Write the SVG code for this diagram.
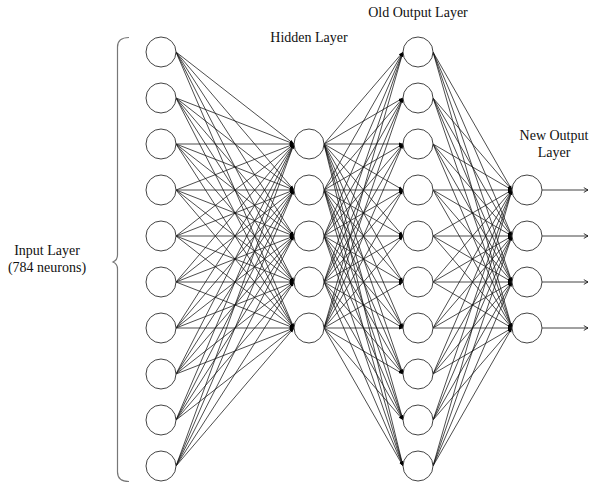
<svg xmlns="http://www.w3.org/2000/svg" width="600" height="486" viewBox="0 0 600 486">
<defs>
<style>
.n{fill:#fff;stroke:#444;stroke-width:1}
.c line{stroke:#111;stroke-width:0.75;marker-end:url(#a)}
.c line.o{marker-end:url(#o);stroke-width:0.8}
text{font-family:"Liberation Serif","Times New Roman",serif;font-size:14px;fill:#111;text-anchor:middle}
</style>
<marker id="a" viewBox="0 0 10 10" refX="10" refY="5" markerWidth="4.5" markerHeight="4.5" markerUnits="userSpaceOnUse" orient="auto"><path d="M0,1.5 L10,5 L0,8.5 z" fill="#000"/></marker>
<marker id="o" viewBox="0 0 10 10" refX="10" refY="5" markerWidth="6" markerHeight="6" markerUnits="userSpaceOnUse" orient="auto"><path d="M3,1 L10,5 L3,9" fill="none" stroke="#000" stroke-width="1.3"/></marker>
</defs>
<rect width="600" height="486" fill="#fff"/>
<g id="connectors" class="c">
<line x1="176" y1="52" x2="294" y2="144"/><line x1="176" y1="52" x2="294" y2="190"/><line x1="176" y1="52" x2="294" y2="236"/><line x1="176" y1="52" x2="294" y2="282"/><line x1="176" y1="52" x2="294" y2="328"/>
<line x1="176" y1="98" x2="294" y2="144"/><line x1="176" y1="98" x2="294" y2="190"/><line x1="176" y1="98" x2="294" y2="236"/><line x1="176" y1="98" x2="294" y2="282"/><line x1="176" y1="98" x2="294" y2="328"/>
<line x1="176" y1="144" x2="294" y2="144"/><line x1="176" y1="144" x2="294" y2="190"/><line x1="176" y1="144" x2="294" y2="236"/><line x1="176" y1="144" x2="294" y2="282"/><line x1="176" y1="144" x2="294" y2="328"/>
<line x1="176" y1="190" x2="294" y2="144"/><line x1="176" y1="190" x2="294" y2="190"/><line x1="176" y1="190" x2="294" y2="236"/><line x1="176" y1="190" x2="294" y2="282"/><line x1="176" y1="190" x2="294" y2="328"/>
<line x1="176" y1="236" x2="294" y2="144"/><line x1="176" y1="236" x2="294" y2="190"/><line x1="176" y1="236" x2="294" y2="236"/><line x1="176" y1="236" x2="294" y2="282"/><line x1="176" y1="236" x2="294" y2="328"/>
<line x1="176" y1="282" x2="294" y2="144"/><line x1="176" y1="282" x2="294" y2="190"/><line x1="176" y1="282" x2="294" y2="236"/><line x1="176" y1="282" x2="294" y2="282"/><line x1="176" y1="282" x2="294" y2="328"/>
<line x1="176" y1="328" x2="294" y2="144"/><line x1="176" y1="328" x2="294" y2="190"/><line x1="176" y1="328" x2="294" y2="236"/><line x1="176" y1="328" x2="294" y2="282"/><line x1="176" y1="328" x2="294" y2="328"/>
<line x1="176" y1="374" x2="294" y2="144"/><line x1="176" y1="374" x2="294" y2="190"/><line x1="176" y1="374" x2="294" y2="236"/><line x1="176" y1="374" x2="294" y2="282"/><line x1="176" y1="374" x2="294" y2="328"/>
<line x1="176" y1="420" x2="294" y2="144"/><line x1="176" y1="420" x2="294" y2="190"/><line x1="176" y1="420" x2="294" y2="236"/><line x1="176" y1="420" x2="294" y2="282"/><line x1="176" y1="420" x2="294" y2="328"/>
<line x1="176" y1="466" x2="294" y2="144"/><line x1="176" y1="466" x2="294" y2="190"/><line x1="176" y1="466" x2="294" y2="236"/><line x1="176" y1="466" x2="294" y2="282"/><line x1="176" y1="466" x2="294" y2="328"/>
<line x1="324" y1="144" x2="403" y2="52"/><line x1="324" y1="144" x2="403" y2="98"/><line x1="324" y1="144" x2="403" y2="144"/><line x1="324" y1="144" x2="403" y2="190"/><line x1="324" y1="144" x2="403" y2="236"/><line x1="324" y1="144" x2="403" y2="282"/><line x1="324" y1="144" x2="403" y2="328"/><line x1="324" y1="144" x2="403" y2="374"/><line x1="324" y1="144" x2="403" y2="420"/><line x1="324" y1="144" x2="403" y2="466"/>
<line x1="324" y1="190" x2="403" y2="52"/><line x1="324" y1="190" x2="403" y2="98"/><line x1="324" y1="190" x2="403" y2="144"/><line x1="324" y1="190" x2="403" y2="190"/><line x1="324" y1="190" x2="403" y2="236"/><line x1="324" y1="190" x2="403" y2="282"/><line x1="324" y1="190" x2="403" y2="328"/><line x1="324" y1="190" x2="403" y2="374"/><line x1="324" y1="190" x2="403" y2="420"/><line x1="324" y1="190" x2="403" y2="466"/>
<line x1="324" y1="236" x2="403" y2="52"/><line x1="324" y1="236" x2="403" y2="98"/><line x1="324" y1="236" x2="403" y2="144"/><line x1="324" y1="236" x2="403" y2="190"/><line x1="324" y1="236" x2="403" y2="236"/><line x1="324" y1="236" x2="403" y2="282"/><line x1="324" y1="236" x2="403" y2="328"/><line x1="324" y1="236" x2="403" y2="374"/><line x1="324" y1="236" x2="403" y2="420"/><line x1="324" y1="236" x2="403" y2="466"/>
<line x1="324" y1="282" x2="403" y2="52"/><line x1="324" y1="282" x2="403" y2="98"/><line x1="324" y1="282" x2="403" y2="144"/><line x1="324" y1="282" x2="403" y2="190"/><line x1="324" y1="282" x2="403" y2="236"/><line x1="324" y1="282" x2="403" y2="282"/><line x1="324" y1="282" x2="403" y2="328"/><line x1="324" y1="282" x2="403" y2="374"/><line x1="324" y1="282" x2="403" y2="420"/><line x1="324" y1="282" x2="403" y2="466"/>
<line x1="324" y1="328" x2="403" y2="52"/><line x1="324" y1="328" x2="403" y2="98"/><line x1="324" y1="328" x2="403" y2="144"/><line x1="324" y1="328" x2="403" y2="190"/><line x1="324" y1="328" x2="403" y2="236"/><line x1="324" y1="328" x2="403" y2="282"/><line x1="324" y1="328" x2="403" y2="328"/><line x1="324" y1="328" x2="403" y2="374"/><line x1="324" y1="328" x2="403" y2="420"/><line x1="324" y1="328" x2="403" y2="466"/>
<line x1="433" y1="52" x2="512" y2="190"/><line x1="433" y1="52" x2="512" y2="236"/><line x1="433" y1="52" x2="512" y2="282"/><line x1="433" y1="52" x2="512" y2="328"/>
<line x1="433" y1="98" x2="512" y2="190"/><line x1="433" y1="98" x2="512" y2="236"/><line x1="433" y1="98" x2="512" y2="282"/><line x1="433" y1="98" x2="512" y2="328"/>
<line x1="433" y1="144" x2="512" y2="190"/><line x1="433" y1="144" x2="512" y2="236"/><line x1="433" y1="144" x2="512" y2="282"/><line x1="433" y1="144" x2="512" y2="328"/>
<line x1="433" y1="190" x2="512" y2="190"/><line x1="433" y1="190" x2="512" y2="236"/><line x1="433" y1="190" x2="512" y2="282"/><line x1="433" y1="190" x2="512" y2="328"/>
<line x1="433" y1="236" x2="512" y2="190"/><line x1="433" y1="236" x2="512" y2="236"/><line x1="433" y1="236" x2="512" y2="282"/><line x1="433" y1="236" x2="512" y2="328"/>
<line x1="433" y1="282" x2="512" y2="190"/><line x1="433" y1="282" x2="512" y2="236"/><line x1="433" y1="282" x2="512" y2="282"/><line x1="433" y1="282" x2="512" y2="328"/>
<line x1="433" y1="328" x2="512" y2="190"/><line x1="433" y1="328" x2="512" y2="236"/><line x1="433" y1="328" x2="512" y2="282"/><line x1="433" y1="328" x2="512" y2="328"/>
<line x1="433" y1="374" x2="512" y2="190"/><line x1="433" y1="374" x2="512" y2="236"/><line x1="433" y1="374" x2="512" y2="282"/><line x1="433" y1="374" x2="512" y2="328"/>
<line x1="433" y1="420" x2="512" y2="190"/><line x1="433" y1="420" x2="512" y2="236"/><line x1="433" y1="420" x2="512" y2="282"/><line x1="433" y1="420" x2="512" y2="328"/>
<line x1="433" y1="466" x2="512" y2="190"/><line x1="433" y1="466" x2="512" y2="236"/><line x1="433" y1="466" x2="512" y2="282"/><line x1="433" y1="466" x2="512" y2="328"/>
<line class="o" x1="542" y1="190" x2="588" y2="190"/><line class="o" x1="542" y1="236" x2="588" y2="236"/><line class="o" x1="542" y1="282" x2="588" y2="282"/><line class="o" x1="542" y1="328" x2="588" y2="328"/>
</g>
<g id="input-brace">
<path d="M129,37.5 Q117.5,37.5 117.5,47 L117.5,255 Q117.5,260 113,262 Q117.5,264 117.5,269 L117.5,472 Q117.5,481.5 129,481.5" fill="none" stroke="#777" stroke-width="1.2"/>
<text x="47" y="255">Input Layer</text>
<text x="47" y="272">(784 neurons)</text>
</g>
<g id="input-layer">
<circle class="n" cx="161" cy="52" r="15"/><circle class="n" cx="161" cy="98" r="15"/><circle class="n" cx="161" cy="144" r="15"/><circle class="n" cx="161" cy="190" r="15"/><circle class="n" cx="161" cy="236" r="15"/><circle class="n" cx="161" cy="282" r="15"/><circle class="n" cx="161" cy="328" r="15"/><circle class="n" cx="161" cy="374" r="15"/><circle class="n" cx="161" cy="420" r="15"/><circle class="n" cx="161" cy="466" r="15"/>
</g>
<g id="hidden-layer">
<text x="309" y="42">Hidden Layer</text>
<circle class="n" cx="309" cy="144" r="15"/><circle class="n" cx="309" cy="190" r="15"/><circle class="n" cx="309" cy="236" r="15"/><circle class="n" cx="309" cy="282" r="15"/><circle class="n" cx="309" cy="328" r="15"/>
</g>
<g id="old-output-layer">
<text x="418" y="17">Old Output Layer</text>
<circle class="n" cx="418" cy="52" r="15"/><circle class="n" cx="418" cy="98" r="15"/><circle class="n" cx="418" cy="144" r="15"/><circle class="n" cx="418" cy="190" r="15"/><circle class="n" cx="418" cy="236" r="15"/><circle class="n" cx="418" cy="282" r="15"/><circle class="n" cx="418" cy="328" r="15"/><circle class="n" cx="418" cy="374" r="15"/><circle class="n" cx="418" cy="420" r="15"/><circle class="n" cx="418" cy="466" r="15"/>
</g>
<g id="new-output-layer">
<text x="554" y="140">New Output</text>
<text x="554" y="157">Layer</text>
<circle class="n" cx="527" cy="190" r="15"/><circle class="n" cx="527" cy="236" r="15"/><circle class="n" cx="527" cy="282" r="15"/><circle class="n" cx="527" cy="328" r="15"/>
</g>
</svg>
